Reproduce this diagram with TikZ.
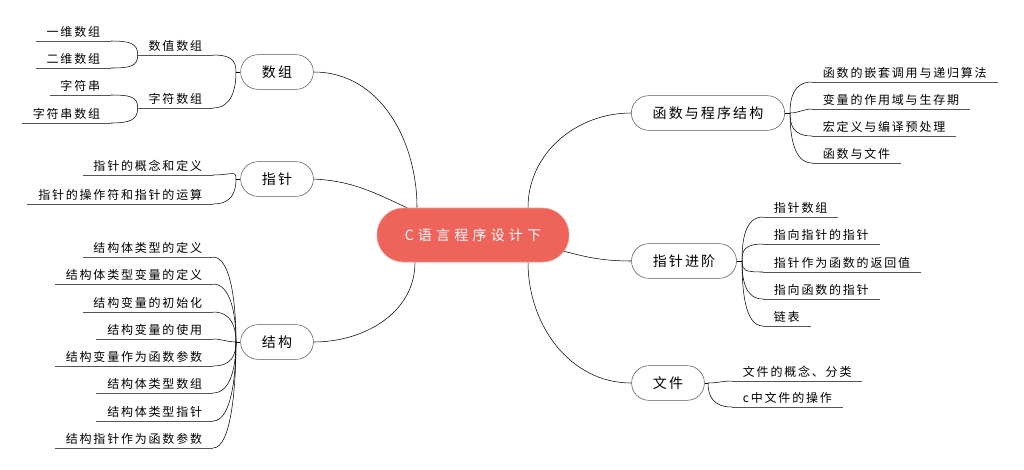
\documentclass[tikz,border=0pt]{standalone}
\usepackage{fontspec}
\newfontfamily\cjk[LetterSpace=15]{Noto Sans CJK SC}
\newfontfamily\cjkwide[LetterSpace=30]{Noto Sans CJK SC}
\usetikzlibrary{calc,backgrounds}
\definecolor{rootred}{RGB}{238,100,91}
\definecolor{linegray}{RGB}{85,85,85}

\tikzset{
  root/.style={rectangle, fill=rootred, draw=rootred!70!white, text=white, rounded corners=20pt,
    minimum width=144pt, minimum height=40.5pt, font=\cjkwide\fontsize{10.5}{12}\selectfont},
  topic/.style={rectangle, draw=linegray, rounded corners=13pt, inner xsep=16pt,
    minimum height=26pt, font=\cjk\fontsize{10.5}{12}\selectfont},
  leaf/.style={inner xsep=8pt, inner ysep=1.5pt, text height=7pt, text depth=1.5pt,
    font=\cjk\fontsize{9}{10}\selectfont,
    append after command={(\tikzlastnode.south west) edge[link] (\tikzlastnode.south east)}},
  leafL/.style={leaf, anchor=south east},
  leafR/.style={leaf, anchor=south west},
  link/.style={draw=linegray, line width=0.6pt},
}

\begin{document}
\begin{tikzpicture}[x=0.75pt, y=0.75pt]
  \tikzset{
    upl/.style={out=90, in=0, in distance=14pt},
    dnl/.style={out=-90, in=0, in distance=14pt},
    upr/.style={out=90, in=180, in distance=14pt},
    dnr/.style={out=-90, in=180, in distance=14pt},
  }
  \useasboundingbox (0,0) rectangle (1024,-469);

  % Mitte
  \node[root] (root) at (473,-235) {C语言程序设计下};

  % Linke Seite: Hauptthemen
  \node[topic] (sz) at (277,-72)  {数组};
  \node[topic] (zz) at (277,-179) {指针};
  \node[topic] (jg) at (277,-342) {结构};

  % Rechte Seite: Hauptthemen
  \node[topic] (hs) at (708,-113) {函数与程序结构};
  \node[topic] (zj) at (684,-261) {指针进阶};
  \node[topic] (wj) at (668,-383) {文件};

  % Verzweigungspunkte
  \coordinate (jsz) at (236,-72);
  \coordinate (jzz) at (236,-179);
  \coordinate (jjg) at (236,-342);
  \coordinate (jhs) at (790,-113);
  \coordinate (jzj) at (742,-261);
  \coordinate (jwj) at (708,-383);

  % Unterpunkte Zeile fuer Zeile
  \node[leafL] (sz1) at (213,-55)  {数值数组};
  \node[leafL] (sz2) at (213,-108) {字符数组};
  \node[leafL] (sz11) at (111,-41) {一维数组};
  \node[leafL] (sz12) at (111,-68) {二维数组};
  \node[leafL] (sz21) at (111,-95) {字符串};
  \node[leafL] (sz22) at (111,-123) {字符串数组};

  \node[leafL] (zz1) at (213,-175) {指针的概念和定义};
  \node[leafL] (zz2) at (213,-204) {指针的操作符和指针的运算};

  \node[leafL] (jg1) at (213,-257) {结构体类型的定义};
  \node[leafL] (jg2) at (213,-284) {结构体类型变量的定义};
  \node[leafL] (jg3) at (213,-312) {结构变量的初始化};
  \node[leafL] (jg4) at (213,-339) {结构变量的使用};
  \node[leafL] (jg5) at (213,-366) {结构变量作为函数参数};
  \node[leafL] (jg6) at (213,-393) {结构体类型数组};
  \node[leafL] (jg7) at (213,-421) {结构体类型指针};
  \node[leafL] (jg8) at (213,-448) {结构指针作为函数参数};

  \node[leafR] (hs1) at (812,-82)  {函数的嵌套调用与递归算法};
  \node[leafR] (hs2) at (812,-109) {变量的作用域与生存期};
  \node[leafR] (hs3) at (812,-136) {宏定义与编译预处理};
  \node[leafR] (hs4) at (812,-163) {函数与文件};

  \node[leafR] (zj1) at (763,-217) {指针数组};
  \node[leafR] (zj2) at (763,-244) {指向指针的指针};
  \node[leafR] (zj3) at (763,-272) {指针作为函数的返回值};
  \node[leafR] (zj4) at (763,-299) {指向函数的指针};
  \node[leafR] (zj5) at (763,-326) {链表};

  \node[leafR] (wj1) at (732,-381) {文件的概念、分类};
  \node[leafR] (wj2) at (732,-407) {c中文件的操作};

  \begin{scope}[on background layer, link]
    % Mitte -> Hauptthemen
    \draw (sz.east) to[out=0, in=90] ($(root.north)+(-56,0)$);
    \draw (zz.east) to[out=-3, in=155] ($(root.north)+(-66,0)$);
    \draw (jg.east) to[out=0, in=-90] ($(root.south)+(-58,0)$);
    \draw (hs.west) to[out=180, in=90] ($(root.north)+(55,0)$);
    \draw (zj.west) to[out=180, in=-15] ($(root.east)+(-10,-15)$);
    \draw (wj.west) to[out=180, in=-90] ($(root.south)+(55,0)$);

    % kurze Stuecke zum Verzweigungspunkt
    \draw (sz.west) -- (jsz);
    \draw (zz.west) -- (jzz);
    \draw (jg.west) -- (jjg);
    \draw (hs.east) -- (jhs);
    \draw (zj.east) -- (jzj);
    \draw (wj.east) -- (jwj);

    % Verzweigungen links
    \draw (jsz) to[upl] (sz1.south east);
    \draw (jsz) to[dnl] (sz2.south east);
    \draw (sz1.south west) to[upl] (sz11.south east);
    \draw (sz1.south west) to[dnl] (sz12.south east);
    \draw (sz2.south west) to[upl] (sz21.south east);
    \draw (sz2.south west) to[dnl] (sz22.south east);

    \draw (jzz) to[upl] (zz1.south east);
    \draw (jzz) to[dnl] (zz2.south east);

    \draw (jjg) to[upl] (jg1.south east);
    \draw (jjg) to[upl] (jg2.south east);
    \draw (jjg) to[upl] (jg3.south east);
    \draw (jjg) to[out=180, in=0] (jg4.south east);
    \draw (jjg) to[dnl] (jg5.south east);
    \draw (jjg) to[dnl] (jg6.south east);
    \draw (jjg) to[dnl] (jg7.south east);
    \draw (jjg) to[dnl] (jg8.south east);

    % Verzweigungen rechts
    \draw (jhs) to[upr] (hs1.south west);
    \draw (jhs) to[out=0, in=180] (hs2.south west);
    \draw (jhs) to[dnr] (hs3.south west);
    \draw (jhs) to[dnr] (hs4.south west);

    \draw (jzj) to[upr] (zj1.south west);
    \draw (jzj) to[upr] (zj2.south west);
    \draw (jzj) to[dnr] (zj3.south west);
    \draw (jzj) to[dnr] (zj4.south west);
    \draw (jzj) to[dnr] (zj5.south west);

    \draw (jwj) to[out=0, in=180] (wj1.south west);
    \draw (jwj) to[dnr] (wj2.south west);
  \end{scope}
\end{tikzpicture}
\end{document}
